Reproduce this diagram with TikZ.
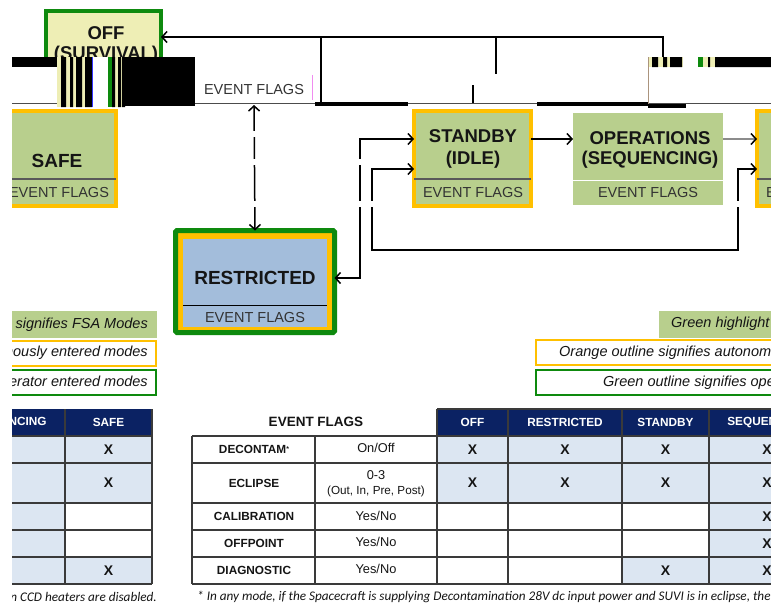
\documentclass[tikz,border=0pt]{standalone}
\usepackage{fontspec}
\setmainfont{Liberation Sans}
\newfontfamily\calibfont{Carlito}
\usetikzlibrary{arrows.meta}
\definecolor{navy}{HTML}{0B2263}
\definecolor{lblue}{HTML}{DCE6F2}
\definecolor{fsagreen}{HTML}{B8CF8D}
\definecolor{offyel}{HTML}{EEEEB5}
\definecolor{orng}{HTML}{FFC000}
\definecolor{dkgreen}{HTML}{0E8A0E}
\definecolor{rblue}{HTML}{A3BDDB}
\definecolor{txt}{HTML}{151515}
\definecolor{gridc}{HTML}{3A3A3A}
\definecolor{pinkc}{HTML}{F08CF0}
\begin{document}
\begin{tikzpicture}[x=1pt,y=-1pt,
  modebox/.style={minimum width=117pt,minimum height=95pt,inner sep=0,outer sep=0,line width=4pt,draw=orng,fill=fsagreen},
  ttl/.style={font=\bfseries\fontsize{18.5}{21}\selectfont,text=txt,align=center,inner sep=0},
  bttl/.style={font=\bfseries\fontsize{19}{21}\selectfont,text=txt,align=center,inner sep=0},
  flg/.style={font=\fontsize{14.5}{16}\selectfont,text=black!80,inner sep=0},
  conn/.style={line width=1.5pt,draw=black},
  arr/.style={arrows={-Straight Barb[length=5pt,width=11pt]}},
  dbl/.style={arrows={Straight Barb[length=5pt,width=11pt]-Straight Barb[length=5pt,width=11pt]}},
  leg/.style={font=\itshape\fontsize{14.5}{16}\selectfont,text=txt,inner sep=0},
  th/.style={font=\bfseries\fontsize{11.8}{13}\selectfont,text=white,inner sep=0},
  tl/.style={font=\bfseries\fontsize{11.8}{13}\selectfont,text=txt,inner sep=0},
  tv/.style={font=\fontsize{12.8}{14}\selectfont,text=txt,inner sep=0,align=center},
  tx/.style={font=\bfseries\fontsize{14}{15}\selectfont,text=txt,inner sep=0},
  gline/.style={draw=gridc,line width=1.1pt},
  foot/.style={font=\calibfont\itshape\fontsize{13.2}{15}\selectfont,text=txt,inner sep=0}]
\fill[white] (0,0) rectangle (771,603);
\useasboundingbox (0,0) rectangle (771,603);
\begin{scope}
\clip (12,0) rectangle (771,603);

% ---------------- mode boxes ----------------
\node[draw=dkgreen,fill=offyel,line width=4pt,minimum width=115pt,minimum height=69pt,inner sep=0,outer sep=0] (offbox) at (103.5,45.5) {};
\node[ttl] (offt) at (106,33) {OFF};
\node[ttl] (offt2) at (106,55) {(SURVIVAL)};

\node[modebox] (safebox) at (57.5,158.5) {};
\draw[black!65,line width=1.5pt] (-1,179) -- (116,179);
\node[bttl] (safet) at (57,161) {SAFE};
\node[flg] (safef) at (59,193) {EVENT FLAGS};

\node[modebox] (stbybox) at (472.5,158.5) {};
\draw[black!65,line width=1.5pt] (414,179) -- (531,179);
\node[ttl] (stbyt) at (473,136) {STANDBY};
\node[ttl] (stbyt2) at (473,160) {(IDLE)};
\node[flg] (stbyf) at (473,193) {EVENT FLAGS};

\node[fill=fsagreen,minimum width=150pt,minimum height=92pt,inner sep=0,outer sep=0] (opsbox) at (648,159) {};
\draw[white,line width=1pt] (573,180) -- (723,180);
\node[ttl] (opst) at (650,138) {OPERATIONS};
\node[ttl] (opst2) at (650,160) {(SEQUENCING)};
\node[flg] (opsf) at (648,193) {EVENT FLAGS};

\node[modebox] (rightbox) at (815.5,158.5) {};
\draw[black!65,line width=1.5pt] (757,179) -- (874,179);
\node[flg] (rightf) at (816,193) {EVENT FLAGS};

\node[draw=dkgreen,line width=5pt,fill=orng,minimum width=159pt,minimum height=102pt,inner sep=0,outer sep=0,rounded corners=1.5pt] (restrbox) at (255,281.5) {};
\node[fill=rblue,minimum width=144pt,minimum height=88pt,inner sep=0,outer sep=0] (restrin) at (255,283) {};
\draw[black,line width=1pt] (183,305) -- (327,305);
\node[bttl] (restrt) at (255,278) {RESTRICTED};
\node[flg] (restrf) at (255,318) {EVENT FLAGS};

% ---------------- top bus ----------------
\coordinate (b663a) at (663,57);
\coordinate (b663b) at (663,37);
\coordinate (b321a) at (321,37);
\coordinate (b321b) at (321,103);
\coordinate (b496a) at (496,37);
\coordinate (b496b) at (496,74);
\coordinate (b473a) at (473,85);
\coordinate (b473b) at (473,103);
\coordinate (busl) at (12,103.5);
\coordinate (busr) at (771,103.5);
\draw[black!70,line width=0.9pt] (busl) -- (busr);
\draw[conn,arr] (b663a) -- (b663b) -- (offbox.east |- b663b);
\draw[conn] (b321a) -- (b321b);
\draw[conn] (b496a) -- (b496b);
\draw[conn] (b473a) -- (b473b);
\fill[black] (315,102) rectangle (408,106);
\fill[black] (537,102) rectangle (648,106);

% ---------------- glitch bands (left) ----------------
\fill[white] (12,57) rectangle (312,103);
\fill[black] (12,57) rectangle (57,67);
\fill[offyel] (57,57) rectangle (125,107);
\fill[black] (61,57) rectangle (66,107) (70,57) rectangle (73,107) (76,57) rectangle (82,107)
  (85,57) rectangle (92,107) (112,57) rectangle (115,107) (118,57) rectangle (121,107) (122,57) rectangle (125,107);
\fill[white] (92,57) rectangle (108,107);
\draw[blue!80,line width=0.8pt] (92.4,57) -- (92.4,107);
\fill[dkgreen] (108,57) rectangle (112,107);
\fill[black] (125,57) rectangle (195,106);
\node[flg] (offf) at (254,90) {EVENT FLAGS};
\draw[pinkc,line width=0.8pt] (312.5,75) -- (312.5,100);

% ---------------- glitch bands (right) ----------------
\fill[offyel] (648,57) rectangle (715,67);
\fill[black] (652,57) rectangle (658,67) (663,57) rectangle (667,67) (670,57) rectangle (682,67)
  (708,57) rectangle (710,67) (715,57) rectangle (771,67);
\fill[white] (683,57) rectangle (698,67);
\fill[dkgreen] (698,57) rectangle (703,67);
\draw[black!40!brown!60,line width=0.9pt] (648,57) -- (648,107);
\fill[black] (648,104) rectangle (686,108);

% ---------------- connectors ----------------
\coordinate (offflags) at (254,105);
\draw[conn,dbl] (offflags) -- (restrbox.north);

\coordinate (r1) at (360,278);
\coordinate (r2) at (360,139);
\draw[conn,dbl] (restrbox.east |- r1) -- (r1) -- (r2) -- (stbybox.west |- r2);

\coordinate (l1) at (372,169);
\coordinate (l2) at (372,250);
\coordinate (l3) at (738,250);
\coordinate (l4) at (738,169);
\draw[conn,dbl] (stbybox.west |- l1) -- (l1) -- (l2) -- (l3) -- (l4) -- (rightbox.west |- l4);

\coordinate (s1) at (531,139);
\draw[conn,arr] (stbybox.east |- s1) -- (opsbox.west |- s1);
\draw[line width=1.5pt,draw=black!45,arrows={-Straight Barb[length=5pt,width=11pt,color=black]}] (opsbox.east |- s1) -- (rightbox.west |- s1);

% line breaks (glitch)
\fill[white] (245,131) rectangle (265,137);
\fill[white] (245,159) rectangle (380,165);
\fill[white] (245,201) rectangle (380,207);
\fill[white] (733,201) rectangle (743,207);

% ---------------- legends ----------------
\node[fill=fsagreen,minimum width=460pt,minimum height=27pt,inner sep=0,outer sep=0,anchor=east] (lg1) at (157,324.5) {};
\node[leg,anchor=east] (lg1t) at (148,324.5) {Green highlight signifies FSA Modes};
\node[draw=orng,line width=2pt,minimum width=460pt,minimum height=25pt,inner sep=0,outer sep=0,anchor=east] (lg2) at (156,353) {};
\node[leg,anchor=east] (lg2t) at (148,353) {Orange outline signifies autonomously entered modes};
\node[draw=dkgreen,line width=2pt,minimum width=460pt,minimum height=25pt,inner sep=0,outer sep=0,anchor=east] (lg3) at (156,382.5) {};
\node[leg,anchor=east] (lg3t) at (148,382.5) {Green outline signifies operator entered modes};

\node[fill=fsagreen,minimum width=300pt,minimum height=27pt,inner sep=0,outer sep=0,anchor=west] (rg1) at (659,324) {};
\node[leg,anchor=west] (rg1t) at (671,324) {Green highlight signifies FSA Modes};
\node[draw=orng,line width=2pt,minimum width=400pt,minimum height=25pt,inner sep=0,outer sep=0,anchor=west] (rg2) at (536,352.5) {};
\node[leg,anchor=west] (rg2t) at (559,352.5) {Orange outline signifies autonomously entered modes};
\node[draw=dkgreen,line width=2pt,minimum width=400pt,minimum height=25pt,inner sep=0,outer sep=0,anchor=west] (rg3) at (536,382.5) {};
\node[leg,anchor=west] (rg3t) at (603,382.5) {Green outline signifies operator entered modes};

% ---------------- left table ----------------
\fill[navy] (-51,409) rectangle (152,437);
\fill[lblue] (-51,436) rectangle (65,584);
\fill[lblue] (65,436) rectangle (152,503);
\fill[lblue] (65,557) rectangle (152,584);
\foreach \yy in {436,463,503,530,557,584} \draw[gline] (-51,\yy) -- (152,\yy);
\draw[gline] (65,409) -- (65,584);
\draw[gline] (152,409) -- (152,584);
\node[th] (lh1) at (7,422.5) {SEQUENCING};
\node[th] (lh2) at (108.5,422.5) {SAFE};
\foreach \yy [count=\i] in {449.5,483,516.5,543.5,570.5} \node[tx] (lsq\i) at (7,\yy) {X};
\node[tx] (ls1) at (108.5,449.5) {X};
\node[tx] (ls2) at (108.5,483) {X};
\node[tx] (ls5) at (108.5,570.5) {X};
\node[foot,anchor=east] (lfoot) at (157,597) {main CCD heaters are disabled.};

% ---------------- right table ----------------
\node[font=\bfseries\fontsize{13.5}{15}\selectfont,text=txt,inner sep=0] (eft) at (316,421.5) {EVENT FLAGS};
\fill[navy] (437,409) rectangle (825,436);
\fill[lblue] (437,436) rectangle (825,503);
\fill[lblue] (709,503) rectangle (825,584);
\fill[lblue] (622,557) rectangle (709,584);
\foreach \yy in {436,463,503,530,557,584} \draw[gline] (192,\yy) -- (825,\yy);
\draw[gline] (437,409) -- (825,409);
\foreach \xx in {192,315} \draw[gline] (\xx,436) -- (\xx,584);
\foreach \xx in {437,508,622,709} \draw[gline] (\xx,409) -- (\xx,584);
\node[th] (rh1) at (472.5,422.5) {OFF};
\node[th] (rh2) at (565,422.5) {RESTRICTED};
\node[th] (rh3) at (665.5,422.5) {STANDBY};
\node[th] (rh4) at (767,422.5) {SEQUENCING};
\node[tl] (rl1) at (254,449.5) {DECONTAM\raisebox{2.5pt}{\fontsize{7}{7}\selectfont *}};
\node[tl] (rl2) at (254,483) {ECLIPSE};
\node[tl] (rl3) at (254,516.5) {CALIBRATION};
\node[tl] (rl4) at (254,543.5) {OFFPOINT};
\node[tl] (rl5) at (254,570.5) {DIAGNOSTIC};
\node[tv] (rv1) at (376,448) {On/Off};
\node[tv] (rv2a) at (376,475) {0-3};
\node[tv,font=\fontsize{11.7}{13}\selectfont] (rv2b) at (376,491) {(Out, In, Pre, Post)};
\node[tv] (rv3) at (376,516) {Yes/No};
\node[tv] (rv4) at (376,542) {Yes/No};
\node[tv] (rv5) at (376,569) {Yes/No};
\foreach \xx/\cc in {472.5/a,565/b,665.5/c,767/d} {
  \node[tx] (x1\cc) at (\xx,449.5) {X};
  \node[tx] (x2\cc) at (\xx,483) {X};
}
\node[tx] (x3d) at (767,516.5) {X};
\node[tx] (x4d) at (767,543.5) {X};
\node[tx] (x5c) at (665.5,570.5) {X};
\node[tx] (x5d) at (767,570.5) {X};
\node[foot,anchor=west] (rfoot) at (197,597) {* In any mode, if the Spacecraft is supplying Decontamination 28V dc input power and SUVI is in eclipse, the main CCD heaters are disabled.};
\end{scope}
\end{tikzpicture}
\end{document}
